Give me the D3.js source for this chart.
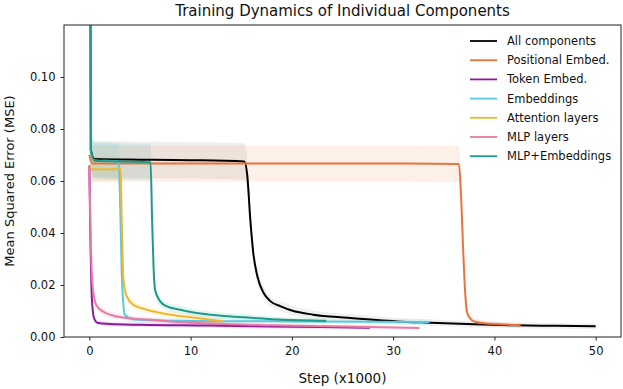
<!DOCTYPE html>
<html>
<head>
<meta charset="utf-8">
<script src="https://cdn.jsdelivr.net/npm/d3@7"></script>
<style>
  body { margin: 0; background: #fff; }
  text { font-family: "DejaVu Sans", sans-serif; fill: #111; }
</style>
</head>
<body>
<svg id="chart" width="623" height="389"></svg>
<script>
// series data: [step (x1000), mean MSE, spread]
const allComponents = [[0, 0.30, 0.01], [0.15, 0.072, 0.007], [0.5, 0.0685, 0.007], [5, 0.0682, 0.007], [10, 0.068, 0.007],
  [15.3, 0.0675, 0.007], [15.6, 0.062, 0.006], [15.9, 0.045, 0.004], [16.2, 0.032, 0.003], [16.6, 0.0233, 0.003],
  [17.2, 0.017, 0.0025], [17.9, 0.0137, 0.002], [18.9, 0.0118, 0.002], [20, 0.0102, 0.0018], [22.1, 0.0086, 0.0016],
  [25.5, 0.0074, 0.0015], [30.4, 0.006, 0.0013], [33.7, 0.0055, 0.0012], [38, 0.0049, 0.0012], [42, 0.0045, 0.0011],
  [46, 0.0043, 0.0011], [50, 0.0041, 0.001]];
const positionalEmbed = [[0, 0.07, 0.007], [0.3, 0.0667, 0.007], [10, 0.0667, 0.007], [20, 0.0667, 0.007], [30, 0.0667, 0.007],
  [36.5, 0.0665, 0.007], [36.7, 0.055, 0.005], [36.9, 0.035, 0.003], [37.1, 0.018, 0.002], [37.3, 0.0095, 0.0015],
  [37.6, 0.0072, 0.0012], [38, 0.006, 0.0012], [39, 0.0053, 0.0011], [40.5, 0.0049, 0.001], [42.6, 0.0045, 0.001]];
const tokenEmbed = [[0, 0.066, 0.004], [0.1, 0.04, 0.003], [0.25, 0.015, 0.002], [0.45, 0.0075, 0.0012], [0.8, 0.0055, 0.001],
  [2, 0.005, 0.001], [5, 0.0047, 0.0009], [12, 0.0044, 0.0008], [18, 0.004, 0.0008], [23, 0.0038, 0.0007], [27.7, 0.0036, 0.0007]];
const embeddings = [[0, 0.30, 0.01], [0.15, 0.071, 0.007], [0.5, 0.068, 0.007], [2.9, 0.0675, 0.007], [3.05, 0.05, 0.004],
  [3.2, 0.025, 0.002], [3.35, 0.013, 0.0015], [3.5, 0.0085, 0.0013], [4.3, 0.0068, 0.0012], [7, 0.0063, 0.0011],
  [12, 0.0061, 0.001], [20, 0.006, 0.001], [28, 0.0059, 0.001], [33.6, 0.0058, 0.001]];
const attentionLayers = [[0, 0.066, 0.005], [0.2, 0.0645, 0.005], [3.1, 0.0645, 0.005], [3.2, 0.045, 0.003], [3.37, 0.022, 0.002],
  [3.7, 0.0156, 0.0018], [4.35, 0.0124, 0.0016], [5.7, 0.0105, 0.0015], [7.3, 0.009, 0.0014], [10.6, 0.0073, 0.0012],
  [13.3, 0.006, 0.0011]];
const mlpLayers = [[0, 0.066, 0.004], [0.1, 0.045, 0.003], [0.25, 0.024, 0.0025], [0.45, 0.0158, 0.002], [0.75, 0.0118, 0.0018],
  [1.5, 0.0095, 0.0015], [2.4, 0.0082, 0.0013], [4, 0.0072, 0.0012], [5.7, 0.0067, 0.0011], [8, 0.006, 0.001],
  [12, 0.0052, 0.0009], [18, 0.0045, 0.0008], [25, 0.004, 0.0008], [32.6, 0.0035, 0.0007]];
const mlpEmbeddings = [[0, 0.30, 0.01], [0.15, 0.072, 0.007], [0.5, 0.0678, 0.007], [3, 0.0675, 0.007], [6.05, 0.0672, 0.007],
  [6.2, 0.045, 0.004], [6.35, 0.026, 0.0025], [6.5, 0.018, 0.002], [7.0, 0.0137, 0.0018], [7.65, 0.0118, 0.0016],
  [9, 0.0105, 0.0015], [10.6, 0.0092, 0.0014], [13, 0.0082, 0.0013], [15.6, 0.0075, 0.0012], [19, 0.0066, 0.0011],
  [23.4, 0.0062, 0.001]];

const seriesNames = ["All components", "Positional Embed.", "Token Embed.", "Embeddings",
  "Attention layers", "MLP layers", "MLP+Embeddings"];
const seriesData = [allComponents, positionalEmbed, tokenEmbed, embeddings, attentionLayers, mlpLayers, mlpEmbeddings];
const seriesColors = ["#000000", "#e8743b", "#8b1a9c", "#5bc8dc", "#f0b62c", "#e97aa3", "#1e9a88"];

const xTicks = [0, 10, 20, 30, 40, 50];
const yTicks = [0, 0.02, 0.04, 0.06, 0.08, 0.10];

const margin = { top: 25, right: 2, bottom: 52, left: 64 };
const svg = d3.select("#chart"),
    width = +svg.attr("width"),
    height = +svg.attr("height"),
    innerW = width - margin.left - margin.right,
    innerH = height - margin.top - margin.bottom;

const x = d3.scaleLinear().domain([-2.5, 52.5]).range([margin.left, margin.left + innerW]);
const y = d3.scaleLinear().domain([0, 0.12]).range([margin.top + innerH, margin.top]);

svg.append("defs").append("clipPath").attr("id", "plotclip")
    .append("rect")
    .attr("x", margin.left).attr("y", margin.top)
    .attr("width", innerW).attr("height", innerH);

const plot = svg.append("g").attr("clip-path", "url(#plotclip)");

const band = d3.area()
    .x(d => x(d[0]))
    .y0(d => y(d[1] - d[2]))
    .y1(d => y(d[1] + d[2]))
    .curve(d3.curveMonotoneX);

const line = d3.line()
    .x(d => x(d[0]))
    .y(d => y(d[1]))
    .curve(d3.curveMonotoneX);

// light spread bands first, then lines on top in legend order
seriesData.forEach((data, i) => {
    plot.append("path")
        .attr("d", band(data))
        .attr("fill", seriesColors[i])
        .attr("fill-opacity", i == 0 ? 0.06 : 0.11);
});
seriesData.forEach((data, i) => {
    plot.append("path")
        .attr("d", line(data))
        .attr("fill", "none")
        .attr("stroke", seriesColors[i])
        .attr("stroke-width", 2);
});

// axes
const xAxis = svg.append("g")
    .attr("transform", `translate(0,${margin.top + innerH})`)
    .call(d3.axisBottom(x).tickValues(xTicks).tickSize(3.5).tickPadding(6).tickFormat(d3.format("d")));
const yAxis = svg.append("g")
    .attr("transform", `translate(${margin.left},0)`)
    .call(d3.axisLeft(y).tickValues(yTicks).tickSize(3.5).tickPadding(5).tickFormat(d3.format(".2f")));
[xAxis, yAxis].forEach(a => {
    a.select(".domain").remove();
    a.selectAll("text").style("font-size", "11.5px").style("font-family", "'DejaVu Sans', sans-serif").attr("fill", "#111");
    a.selectAll("line").attr("stroke", "#222");
});

svg.append("rect")
    .attr("x", margin.left).attr("y", margin.top)
    .attr("width", innerW).attr("height", innerH)
    .attr("fill", "none").attr("stroke", "#222").attr("stroke-width", 1);

// titles
svg.append("text")
    .attr("x", margin.left + innerW / 2).attr("y", 16)
    .attr("text-anchor", "middle").style("font-size", "15px")
    .text("Training Dynamics of Individual Components");
svg.append("text")
    .attr("x", margin.left + innerW / 2).attr("y", 383)
    .attr("text-anchor", "middle").style("font-size", "13.5px")
    .text("Step (x1000)");
svg.append("text")
    .attr("transform", `translate(14,${margin.top + innerH / 2}) rotate(-90)`)
    .attr("text-anchor", "middle").style("font-size", "13px")
    .text("Mean Squared Error (MSE)");

// legend
const legend = svg.append("g");
seriesNames.forEach((name, i) => {
    const ly = 41 + i * 19.2;
    legend.append("line")
        .attr("x1", 470).attr("x2", 497).attr("y1", ly).attr("y2", ly)
        .attr("stroke", seriesColors[i]).attr("stroke-width", 1.8);
    legend.append("text")
        .attr("x", 507).attr("y", ly).attr("dy", "0.35em")
        .style("font-size", "11.5px")
        .text(name);
});
</script>
</body>
</html>
